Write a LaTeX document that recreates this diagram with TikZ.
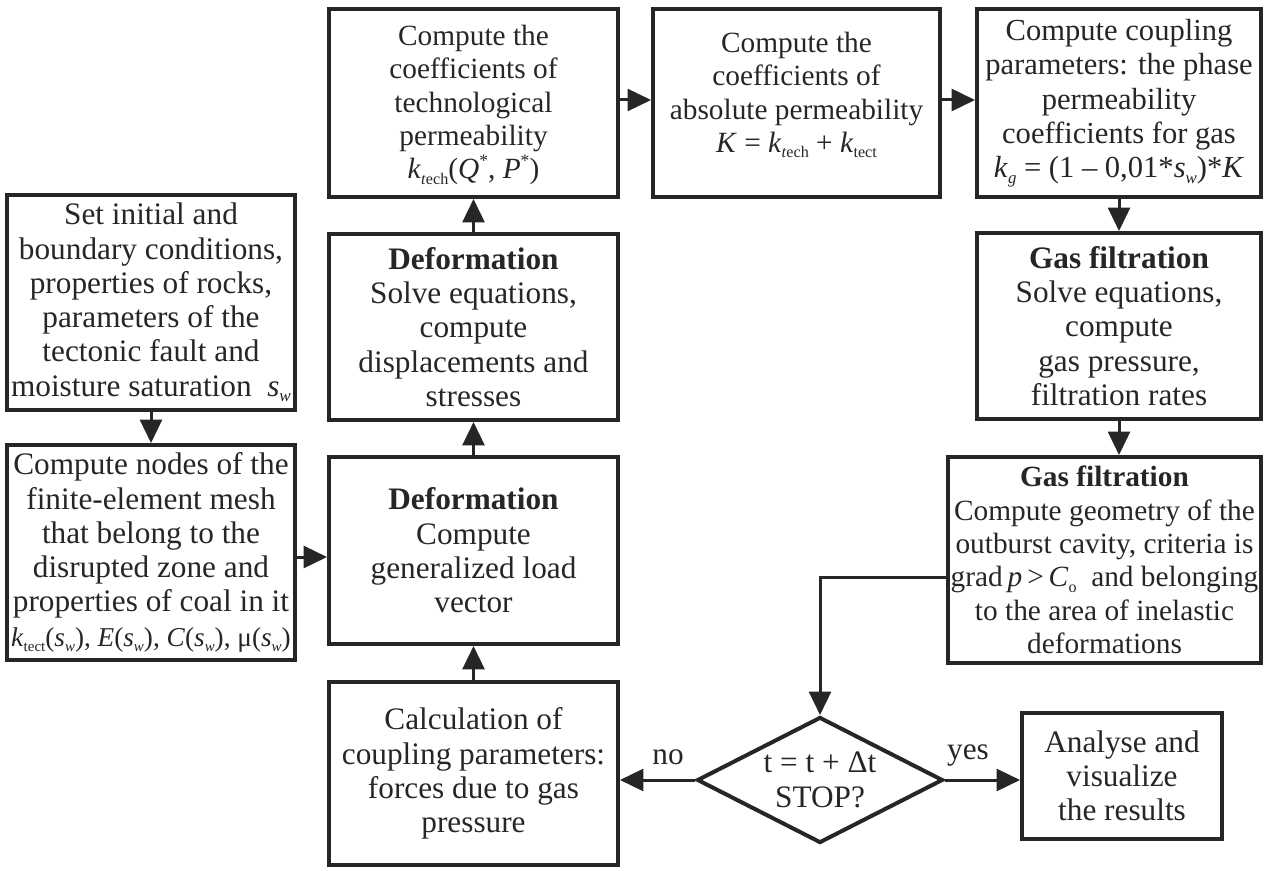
\documentclass[tikz,border=0pt]{standalone}
\usepackage{fontspec}
\setmainfont{Liberation Serif}
\usetikzlibrary{arrows.meta,shapes.geometric,calc}
\definecolor{ink}{HTML}{262626}
\newcommand\sub[1]{\raisebox{-0.4ex}{\scalebox{0.55}{#1}}}
\newcommand\supr[1]{\raisebox{0.95ex}{\scalebox{0.6}{#1}}}
\newcommand\sw{\textit{s}\sub{\textit{w}}}
\newcommand\ktech{\textit{k}\sub{\textit{t}ech}}
\newcommand\ktect{\textit{k}\sub{tect}}
\begin{document}
\begin{tikzpicture}[x=0.02cm,y=-0.02cm,
  box/.style={draw=ink, line width=0.08cm, align=center, inner sep=0pt, text=ink},
  big/.style={font=\fontsize{17.8}{19.5}\selectfont},
  mid/.style={font=\fontsize{17.4}{19.5}\selectfont},
  small/.style={font=\fontsize{16.7}{19}\selectfont},
  txt/.style={align=center, inner sep=0pt, text=ink},
  dia/.style={draw=ink, line width=0.08cm, diamond, aspect=1.95, inner sep=0pt,
    align=center, text=ink},
  arr/.style={draw=ink, line width=0.06cm, -{Triangle[length=0.47cm,width=0.44cm]}},
  lab/.style={inner sep=0pt, text=ink}]
\useasboundingbox (0,0) rectangle (1267,871);

\node[box, big, minimum width=5.76cm, minimum height=4.30cm] (A) at (151,302.5)
 {Set initial and\\ boundary conditions,\\ properties of rocks,\\ parameters of the\\ tectonic fault and\\ moisture saturation \ \sw};
\node[box, big, minimum width=5.76cm, minimum height=4.30cm] (B) at (151,552.5)
 {Compute nodes of the\\ finite-element mesh\\ that belong to the\\ disrupted zone and\\ properties of coal in it\\
 {\fontsize{15.5}{19.5}\selectfont\ktect(\sw), \textit{E}(\sw), \textit{C}(\sw), μ(\sw)}};
\node[box, big, minimum width=5.78cm, minimum height=3.74cm] (C) at (473.5,550.5)
 {\textbf{Deformation}\\ Compute\\ generalized load\\ vector};
\node[box, big, minimum width=5.78cm, minimum height=3.66cm] (D) at (473.5,773.5)
 {Calculation of\\ coupling parameters:\\ forces due to gas\\ pressure};
\node[box, big, minimum width=5.78cm, minimum height=3.72cm] (E) at (473.5,327)
 {\textbf{Deformation}\\ Solve equations,\\ compute\\ displacements and\\ stresses};
\node[box, minimum width=5.78cm, minimum height=3.76cm] (F) at (473.5,103) {};
\node[txt, font=\fontsize{16.7}{19}\selectfont] (Ft) at (473.5,105)
 {Compute the\\ coefficients of\\ technological\\ permeability\\ \ktech(\textit{Q}\supr{*}, \textit{P}\supr{*})};
\node[box, minimum width=5.74cm, minimum height=3.76cm] (G) at (796.5,103) {};
\node[txt, small] (Gt) at (796.5,95)
 {Compute the\\ coefficients of\\ absolute permeability\\ \textit{K} = \ktech{} + \ktect};
\node[box, mid, minimum width=5.68cm, minimum height=3.76cm] (H) at (1119,103)
 {Compute coupling\\ parameters: the phase\\ permeability\\ coefficients for gas\\ \textit{k}\sub{\textit{g}} = (1 – 0,01*\sw)*\textit{K}};
\node[box, big, minimum width=5.70cm, minimum height=3.72cm] (I) at (1119,326)
 {\textbf{Gas filtration}\\ Solve equations,\\ compute\\ gas pressure,\\ filtration rates};
\node[box, small, minimum width=6.26cm, minimum height=4.12cm] (J) at (1104.5,560)
 {\textbf{Gas filtration}\\ Compute geometry of the\\ outburst cavity, criteria is\\ grad\,\textit{p}\,>\,\textit{C}\sub{o}\ \ and belonging\\ to the area of inelastic\\ deformations};
\node[dia, big, minimum width=4.92cm, minimum height=2.52cm] (K) at (820,780)
 {t = t + Δt\\ STOP?};
\node[box, big, minimum width=4.00cm, minimum height=2.52cm] (L) at (1122,776)
 {Analyse and\\ visualize\\ the results};

\node[lab, big] (no) at (668,757) {no};
\node[lab, big] (yes) at (968,756) {yes};

\draw[arr] (A.south) -- (B.north);
\draw[arr] (B.east |- 0,557) -- (C.west |- 0,557);
\draw[arr] (D.north) -- (C.south);
\draw[arr] (C.north) -- (E.south);
\draw[arr] (E.north) -- (F.south);
\draw[arr] (F.east |- 0,100) -- (G.west |- 0,100);
\draw[arr] (G.east |- 0,100) -- (H.west |- 0,100);
\draw[arr] (H.south) -- (I.north);
\draw[arr] (I.south) -- (I.south |- J.north);
\draw[arr] (J.west |- 0,577) -| (K.north);
\draw[arr] (K.west) -- (K.west -| D.east);
\draw[arr] (K.east) -- (K.east -| L.west);
\end{tikzpicture}
\end{document}
